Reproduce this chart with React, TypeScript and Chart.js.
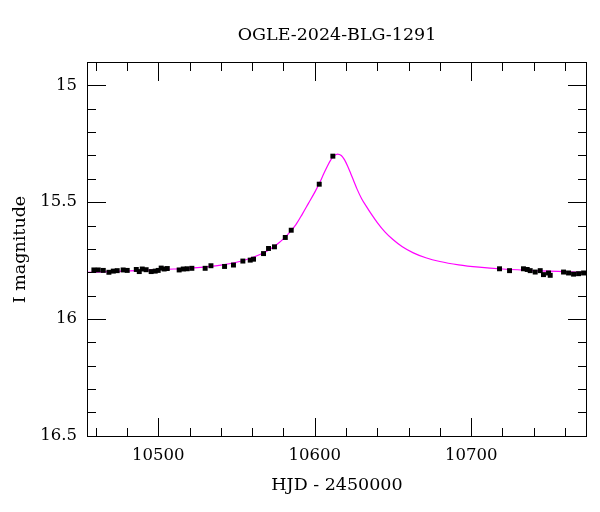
import React, { useEffect, useRef } from "react";
import { Chart, registerables } from "chart.js";

Chart.register(...registerables);

const chartTitle = "OGLE-2024-BLG-1291";
const xTitle = "HJD - 2450000";
const yTitle = "I magnitude";

const xRange = [10454.5, 10774];
const yRange = [14.9, 16.505];

const xMajorTicks = [10500, 10600, 10700];
const xTickLabels = ["10500", "10600", "10700"];
const xMinorTicks = [10460, 10480, 10520, 10540, 10560, 10580, 10620, 10640, 10660, 10680, 10720, 10740, 10760];
const yMajorTicks = [15, 15.5, 16, 16.5];
const yTickLabels = ["15", "15.5", "16", "16.5"];
const yMinorTicks = [15.1, 15.2, 15.3, 15.4, 15.6, 15.7, 15.8, 15.9, 16.1, 16.2, 16.3, 16.4];

const obsHjd = [10458.9, 10461.7, 10464.9, 10468.5, 10471.3, 10473.8, 10477.6, 10480.2, 10486.0, 10487.9, 10489.8, 10492.3, 10495.5, 10498.1, 10500.0, 10501.9, 10503.8, 10505.8, 10513.4, 10516.0, 10518.5, 10521.5, 10530.0, 10533.7, 10542.4, 10548.1, 10554.1, 10558.8, 10560.9, 10567.3, 10570.5, 10574.3, 10581.2, 10585.0, 10602.9, 10611.6, 10718.1, 10724.5, 10733.4, 10735.8, 10737.7, 10740.9, 10744.1, 10746.2, 10749.4, 10750.5, 10759.0, 10762.2, 10765.4, 10768.6, 10771.8];
const obsMag = [15.790, 15.790, 15.792, 15.800, 15.795, 15.793, 15.790, 15.792, 15.788, 15.797, 15.786, 15.789, 15.797, 15.795, 15.792, 15.782, 15.786, 15.784, 15.790, 15.786, 15.785, 15.783, 15.783, 15.772, 15.775, 15.769, 15.752, 15.748, 15.744, 15.720, 15.698, 15.691, 15.651, 15.620, 15.423, 15.303, 15.785, 15.793, 15.785, 15.788, 15.793, 15.799, 15.793, 15.810, 15.803, 15.813, 15.799, 15.803, 15.808, 15.806, 15.803];
const obsErr = [0.006, 0.006, 0.006, 0.006, 0.006, 0.006, 0.006, 0.006, 0.006, 0.006, 0.006, 0.006, 0.006, 0.006, 0.006, 0.006, 0.006, 0.006, 0.006, 0.006, 0.006, 0.006, 0.006, 0.006, 0.006, 0.006, 0.006, 0.006, 0.006, 0.006, 0.006, 0.006, 0.006, 0.006, 0.005, 0.005, 0.006, 0.006, 0.006, 0.006, 0.006, 0.006, 0.006, 0.006, 0.006, 0.006, 0.006, 0.006, 0.006, 0.006, 0.006];

const modelHjd = [10454.5, 10470, 10490, 10510, 10525, 10540, 10550, 10558, 10565, 10571, 10576, 10580, 10584, 10588, 10592, 10596, 10600, 10603, 10606, 10608, 10610, 10612, 10614.5, 10617, 10619, 10621, 10623, 10625, 10627, 10630, 10633, 10636, 10640, 10645, 10650, 10656, 10663, 10671, 10680, 10692, 10705, 10720, 10740, 10774];
const modelMag = [15.800, 15.797, 15.792, 15.786, 15.780, 15.769, 15.757, 15.742, 15.724, 15.703, 15.680, 15.657, 15.629, 15.596, 15.552, 15.505, 15.458, 15.419, 15.375, 15.347, 15.322, 15.304, 15.294, 15.300, 15.318, 15.345, 15.377, 15.410, 15.443, 15.485, 15.518, 15.549, 15.587, 15.628, 15.660, 15.691, 15.717, 15.738, 15.754, 15.768, 15.778, 15.786, 15.793, 15.800];

const FONT = "'DejaVu Serif', serif";

const framePlugin = {
  id: "frameTicks",
  afterDatasetsDraw(chart: any) {
    const { ctx, chartArea: a, scales } = chart;
    const x = scales.x;
    const y = scales.y;
    ctx.save();
    ctx.strokeStyle = "#000";
    ctx.lineWidth = 1;
    ctx.beginPath();
    obsHjd.forEach((h, i) => {
      const px = x.getPixelForValue(h);
      ctx.moveTo(px, y.getPixelForValue(obsMag[i] - obsErr[i]));
      ctx.lineTo(px, y.getPixelForValue(obsMag[i] + obsErr[i]));
    });
    ctx.stroke();
    ctx.restore();

    ctx.save();
    ctx.beginPath();
    ctx.rect(a.left, a.top, a.right - a.left, a.bottom - a.top);
    ctx.clip();
    ctx.strokeStyle = "#000";
    ctx.lineWidth = 1;
    ctx.beginPath();
    const vt = (v: number, len: number) => {
      const px = Math.round(x.getPixelForValue(v)) + 0.5;
      ctx.moveTo(px, a.bottom);
      ctx.lineTo(px, a.bottom - len);
      ctx.moveTo(px, a.top);
      ctx.lineTo(px, a.top + len);
    };
    const ht = (v: number, len: number) => {
      const py = Math.round(y.getPixelForValue(v)) + 0.5;
      ctx.moveTo(a.left, py);
      ctx.lineTo(a.left + len, py);
      ctx.moveTo(a.right, py);
      ctx.lineTo(a.right - len, py);
    };
    xMajorTicks.forEach((v) => vt(v, 19));
    xMinorTicks.forEach((v) => vt(v, 9));
    yMajorTicks.forEach((v) => ht(v, 19));
    yMinorTicks.forEach((v) => ht(v, 9));
    ctx.stroke();
    ctx.restore();

    ctx.save();
    ctx.strokeStyle = "#000";
    ctx.lineWidth = 1;
    ctx.strokeRect(a.left + 0.5, a.top + 0.5, a.right - a.left - 1, a.bottom - a.top - 1);
    ctx.restore();
  },
};

export default function App() {
  const ref = useRef<HTMLCanvasElement>(null);

  useEffect(() => {
    if (!ref.current) return;
    const chart = new Chart(ref.current, {
      type: "line",
      data: {
        datasets: [
          {
            label: "data",
            data: obsHjd.map((h, i) => ({ x: h, y: obsMag[i] })),
            showLine: false,
            pointStyle: "rect",
            pointRadius: 3.5,
            pointBackgroundColor: "#000",
            pointBorderColor: "#000",
            pointBorderWidth: 0,
          },
          {
            label: "model",
            data: modelHjd.map((h, i) => ({ x: h, y: modelMag[i] })),
            borderColor: "#ff00ff",
            borderWidth: 1.2,
            pointRadius: 0,
            cubicInterpolationMode: "monotone",
            fill: false,
          },
        ],
      } as any,
      options: {
        responsive: false,
        animation: false,
        events: [],
        layout: { padding: { left: 0, right: 13, top: 0, bottom: 0 } },
        plugins: {
          legend: { display: false },
          tooltip: { enabled: false },
          title: {
            display: true,
            text: chartTitle,
            fullSize: false,
            color: "#000",
            font: { family: FONT, size: 17.5, weight: "normal" },
            padding: { top: 25, bottom: 16 },
          },
        },
        scales: {
          x: {
            type: "linear",
            min: xRange[0],
            max: xRange[1],
            grid: { display: false, drawTicks: false },
            border: { display: false },
            afterBuildTicks: (axis: any) => {
              axis.ticks = xMajorTicks.map((v) => ({ value: v }));
            },
            afterFit: (scale: any) => {
              scale.height = 75;
            },
            ticks: {
              color: "#000",
              font: { family: FONT, size: 16.5 },
              padding: 9,
              maxRotation: 0,
              callback: (v: any) => {
                const i = xMajorTicks.indexOf(Number(v));
                return i >= 0 ? xTickLabels[i] : "";
              },
            },
            title: {
              display: true,
              text: xTitle,
              color: "#000",
              font: { family: FONT, size: 17.5 },
              padding: { top: 0, bottom: 16.5 },
            },
          },
          y: {
            type: "linear",
            reverse: true,
            min: yRange[0],
            max: yRange[1],
            grid: { display: false, drawTicks: false },
            border: { display: false },
            afterBuildTicks: (axis: any) => {
              axis.ticks = yMajorTicks.map((v) => ({ value: v }));
            },
            afterFit: (scale: any) => {
              scale.width = 87;
            },
            ticks: {
              color: "#000",
              font: { family: FONT, size: 16.5 },
              padding: 10,
              callback: (v: any) => {
                const i = yMajorTicks.indexOf(Number(v));
                return i >= 0 ? yTickLabels[i] : "";
              },
            },
            title: {
              display: true,
              text: yTitle,
              color: "#000",
              font: { family: FONT, size: 17.5 },
              padding: { top: 9.5, bottom: 0 },
            },
          },
        },
      } as any,
      plugins: [framePlugin],
    });
    return () => chart.destroy();
  }, []);

  return (
    <div style={{ position: "absolute", left: 0, top: 0, width: 600, height: 512, background: "#fff" }}>
      <canvas ref={ref} width={600} height={512} />
    </div>
  );
}
